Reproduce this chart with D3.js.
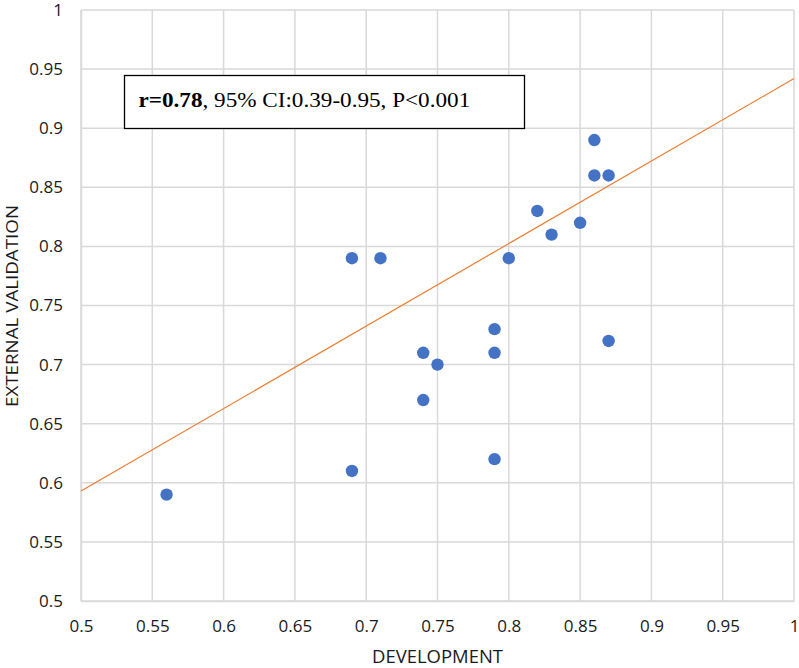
<!DOCTYPE html>
<html><head><meta charset="utf-8">
<script src="https://cdn.jsdelivr.net/npm/d3@7/dist/d3.min.js"></script>
<style>body{margin:0;background:#fff}svg{display:block}</style>
</head><body>
<script>
const devValues = [0.56,0.69,0.69,0.71,0.74,0.74,0.75,0.79,0.79,0.79,0.80,0.82,0.83,0.85,0.86,0.86,0.87,0.87];
const extValues = [0.59,0.61,0.79,0.79,0.71,0.67,0.70,0.73,0.71,0.62,0.79,0.83,0.81,0.82,0.89,0.86,0.86,0.72];
const trendX = [0.5, 1.0];
const trendY = [0.593, 0.942];
const xTicks = [0.5,0.55,0.6,0.65,0.7,0.75,0.8,0.85,0.9,0.95,1];
const yTicks = [0.5,0.55,0.6,0.65,0.7,0.75,0.8,0.85,0.9,0.95,1];
const annotation = [{t:"r=0.78",b:true},{t:", 95% CI:0.39-0.95, P<0.001",b:false}];

const W=799,H=668;
const m={l:81,r:5,t:10,b:67};
const sans="'Open Sans','Liberation Sans',sans-serif";
const svg=d3.select("body").append("svg").attr("width",W).attr("height",H);
const x=d3.scaleLinear().domain([0.5,1]).range([m.l,W-m.r]);
const y=d3.scaleLinear().domain([0.5,1]).range([H-m.b,m.t]);
const fmt=d=>String(+d.toFixed(2));

// grid
const g=svg.append("g");
g.selectAll(".vx").data(xTicks).join("line")
 .attr("x1",d=>x(d)).attr("x2",d=>x(d)).attr("y1",y(0.5)).attr("y2",y(1))
 .attr("stroke","#d9d9d9").attr("stroke-width",1.5);
g.selectAll(".hy").data(yTicks).join("line")
 .attr("y1",d=>y(d)).attr("y2",d=>y(d)).attr("x1",x(0.5)).attr("x2",x(1))
 .attr("stroke","#d9d9d9").attr("stroke-width",1.5);

// axes
const xa=svg.append("g").attr("transform",`translate(0,${y(0.5)})`)
 .call(d3.axisBottom(x).tickValues(xTicks).tickFormat(fmt).tickSize(0).tickPadding(19));
const ya=svg.append("g").attr("transform",`translate(${x(0.5)},0)`)
 .call(d3.axisLeft(y).tickValues(yTicks).tickFormat(fmt).tickSize(0).tickPadding(18));
[xa,ya].forEach(a=>{
  a.select(".domain").attr("stroke","#d9d9d9").attr("stroke-width",1.5);
  a.selectAll("text").attr("font-family",sans).attr("font-size",17).attr("fill","#1a1a1a");
});

// annotation box
const box=svg.append("g");
box.append("rect").attr("x",124.5).attr("y",75.5).attr("width",400).attr("height",53)
 .attr("fill","#fff").attr("stroke","#000").attr("stroke-width",1.3);
const tx=box.append("text").attr("x",0).attr("y",0)
 .attr("font-family","'Liberation Serif','Times New Roman',serif").attr("font-size",20).attr("fill","#000");
tx.selectAll("tspan").data(annotation).join("tspan").text(d=>d.t).attr("font-weight",d=>d.b?"bold":"normal");
const tw=tx.node().getComputedTextLength();
tx.attr("transform",`translate(138.5,106.5) scale(${332/tw},1)`);

// trend line
svg.append("path").datum(trendX.map((v,i)=>[v,trendY[i]]))
 .attr("d",d3.line().x(d=>x(d[0])).y(d=>y(d[1])))
 .attr("fill","none").attr("stroke","#ed7d31").attr("stroke-width",1.2);

// points
svg.append("g").selectAll("circle").data(devValues.map((v,i)=>[v,extValues[i]])).join("circle")
 .attr("cx",d=>x(d[0])).attr("cy",d=>y(d[1])).attr("r",6.2).attr("fill","#4472c4");

// titles
svg.append("text").attr("x",437.5).attr("y",663).attr("text-anchor","middle")
 .attr("font-family",sans).attr("font-size",17.5).attr("fill","#1a1a1a")
 .attr("textLength",131).attr("lengthAdjust","spacingAndGlyphs").text("DEVELOPMENT");
svg.append("text").attr("transform",`translate(18,306) rotate(-90)`).attr("text-anchor","middle")
 .attr("font-family",sans).attr("font-size",16).attr("fill","#1a1a1a")
 .attr("textLength",202).attr("lengthAdjust","spacingAndGlyphs").text("EXTERNAL VALIDATION");
</script>
</body></html>
